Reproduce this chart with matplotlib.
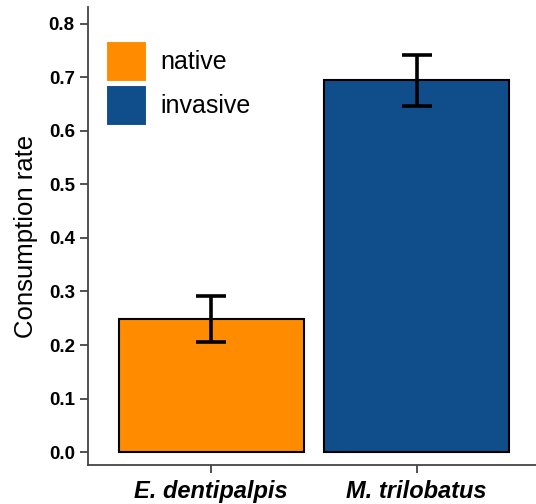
import numpy as np
import matplotlib.pyplot as plt
from matplotlib.patches import Patch

plt.rcParams['font.family'] = ['Liberation Sans', 'DejaVu Sans']

species = ['E. dentipalpis', 'M. trilobatus']
status = ['native', 'invasive']
rate = [0.248, 0.694]
err_low = [0.205, 0.646]
err_high = [0.291, 0.741]
colors = ['#FF8C00', '#104E8B']

fig = plt.figure(figsize=(5.36, 5.04), dpi=100)
ax = fig.add_axes([88 / 536, 39 / 504, 452 / 536, 458 / 504])

x = np.arange(1, len(species) + 1)
ax.bar(x, rate, width=0.9, color=colors, edgecolor='black', linewidth=1.5, zorder=2)
yerr = [np.array(rate) - np.array(err_low), np.array(err_high) - np.array(rate)]
ax.errorbar(x, rate, yerr=yerr, fmt='none', ecolor='black', elinewidth=2.6,
            capsize=11, capthick=2.6, zorder=3)

ax.set_xlim(0.4, 2.6)
ax.set_ylim(-0.024, 0.831)
ax.set_yticks(np.arange(0, 0.81, 0.1))
ax.set_yticklabels([f'{v:.1f}' for v in np.arange(0, 0.81, 0.1)],
                   fontweight='bold', fontsize=13.5)
ax.set_xticks(x)
ax.set_xticklabels(species, fontweight='bold', fontstyle='italic', fontsize=17)
ax.set_ylabel('Consumption rate', fontsize=18.5, labelpad=8)

for side in ['top', 'right']:
    ax.spines[side].set_visible(False)
for side in ['left', 'bottom']:
    ax.spines[side].set_color('#444444')
    ax.spines[side].set_linewidth(1.3)
ax.tick_params(axis='both', length=6, width=1.3, color='#444444', colors='black')
ax.tick_params(axis='x', pad=5)

handles = [Patch(facecolor=c, edgecolor='white', linewidth=1.5) for c in colors]
ax.legend(handles, status, loc='upper left', bbox_to_anchor=(0.013, 0.953),
          frameon=False, fontsize=18, handlelength=1.62, handleheight=2.15,
          labelspacing=0.1, handletextpad=0.55, borderpad=0)

fig.savefig('out.png', dpi=100)
